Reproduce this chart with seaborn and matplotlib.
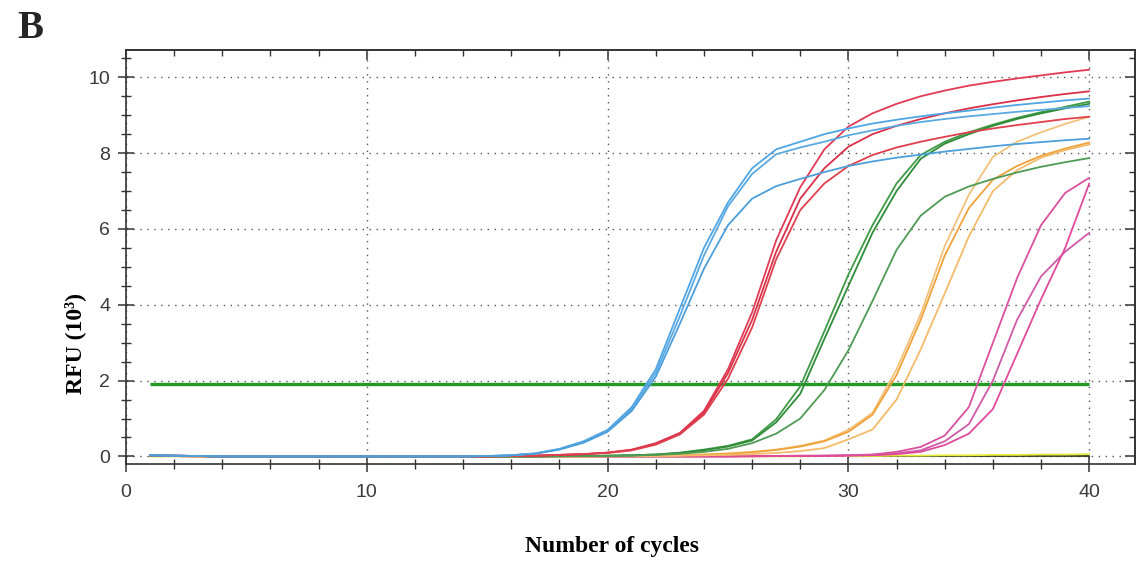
import numpy as np
import pandas as pd
import matplotlib.pyplot as plt
import seaborn as sns
from matplotlib.ticker import MultipleLocator

cycles = list(range(1, 41))

# RFU (x10^3) per cycle
blue_1 = [0.03, 0.02, 0.01, 0.00, 0.00, 0.00, 0.00, 0.00, 0.00, 0.00, 0.00, 0.00, 0.00, 0.00, 0.01,
          0.03, 0.08, 0.20, 0.40, 0.70, 1.30, 2.30, 3.90, 5.50, 6.70,
          7.60, 8.10, 8.30, 8.50, 8.65, 8.78, 8.88, 8.97, 9.05, 9.12, 9.20, 9.27, 9.33, 9.39, 9.44]
blue_2 = [0.03, 0.02, 0.01, 0.00, 0.00, 0.00, 0.00, 0.00, 0.00, 0.00, 0.00, 0.00, 0.00, 0.00, 0.01,
          0.03, 0.08, 0.19, 0.38, 0.68, 1.25, 2.20, 3.70, 5.30, 6.60,
          7.45, 7.97, 8.15, 8.30, 8.47, 8.60, 8.72, 8.82, 8.90, 8.97, 9.03, 9.09, 9.14, 9.19, 9.24]
blue_3 = [0.03, 0.02, 0.01, 0.00, 0.00, 0.00, 0.00, 0.00, 0.00, 0.00, 0.00, 0.00, 0.00, 0.00, 0.01,
          0.03, 0.07, 0.18, 0.36, 0.65, 1.20, 2.10, 3.50, 4.95, 6.10,
          6.80, 7.13, 7.32, 7.50, 7.66, 7.78, 7.88, 7.96, 8.04, 8.11, 8.18, 8.24, 8.29, 8.34, 8.38]

red_1 = [0.03, 0.02, 0.01, 0.00, 0.00, 0.00, 0.00, 0.00, 0.00, 0.00, 0.00, 0.00, 0.00, 0.00, 0.00,
         0.01, 0.02, 0.04, 0.06, 0.10, 0.18, 0.35, 0.62, 1.20, 2.30,
         3.80, 5.70, 7.10, 8.10, 8.70, 9.05, 9.30, 9.50, 9.65, 9.78, 9.88, 9.97, 10.05, 10.13, 10.20]
red_2 = [0.03, 0.02, 0.01, 0.00, 0.00, 0.00, 0.00, 0.00, 0.00, 0.00, 0.00, 0.00, 0.00, 0.00, 0.00,
         0.01, 0.02, 0.04, 0.06, 0.10, 0.17, 0.33, 0.60, 1.15, 2.20,
         3.60, 5.40, 6.80, 7.60, 8.17, 8.50, 8.72, 8.90, 9.05, 9.18, 9.29, 9.39, 9.48, 9.56, 9.63]
red_3 = [0.03, 0.02, 0.01, 0.00, 0.00, 0.00, 0.00, 0.00, 0.00, 0.00, 0.00, 0.00, 0.00, 0.00, 0.00,
         0.01, 0.02, 0.04, 0.06, 0.09, 0.16, 0.31, 0.58, 1.10, 2.05,
         3.40, 5.20, 6.50, 7.20, 7.66, 7.95, 8.15, 8.30, 8.43, 8.55, 8.65, 8.74, 8.82, 8.90, 8.96]

green_1 = [0.02, 0.01, 0.01, 0.00, 0.00, 0.00, 0.00, 0.00, 0.00, 0.00, 0.00, 0.00, 0.00, 0.00, 0.00,
           0.00, 0.00, 0.01, 0.01, 0.02, 0.03, 0.05, 0.10, 0.18, 0.28,
           0.45, 0.98, 1.85, 3.30, 4.80, 6.10, 7.20, 7.95, 8.30, 8.55, 8.75, 8.93, 9.08, 9.22, 9.36]
green_2 = [0.02, 0.01, 0.01, 0.00, 0.00, 0.00, 0.00, 0.00, 0.00, 0.00, 0.00, 0.00, 0.00, 0.00, 0.00,
           0.00, 0.00, 0.01, 0.01, 0.02, 0.03, 0.05, 0.09, 0.16, 0.26,
           0.42, 0.90, 1.65, 3.10, 4.50, 5.90, 7.00, 7.85, 8.25, 8.50, 8.72, 8.90, 9.05, 9.18, 9.30]
green_3 = [0.02, 0.01, 0.01, 0.00, 0.00, 0.00, 0.00, 0.00, 0.00, 0.00, 0.00, 0.00, 0.00, 0.00, 0.00,
           0.00, 0.00, 0.00, 0.01, 0.01, 0.02, 0.04, 0.07, 0.12, 0.20,
           0.35, 0.60, 1.00, 1.75, 2.80, 4.10, 5.45, 6.35, 6.85, 7.12, 7.32, 7.49, 7.64, 7.76, 7.87]

orange_1 = [0.02, 0.01, 0.00, 0.00, 0.00, 0.00, 0.00, 0.00, 0.00, 0.00, 0.00, 0.00, 0.00, 0.00, 0.00,
            0.00, 0.00, 0.00, 0.00, 0.01, 0.01, 0.02, 0.03, 0.05, 0.08,
            0.12, 0.18, 0.28, 0.42, 0.70, 1.15, 2.30, 3.75, 5.55, 6.90, 7.90, 8.30, 8.55, 8.77, 8.96]
orange_2 = [0.02, 0.01, 0.00, 0.00, 0.00, 0.00, 0.00, 0.00, 0.00, 0.00, 0.00, 0.00, 0.00, 0.00, 0.00,
            0.00, 0.00, 0.00, 0.00, 0.01, 0.01, 0.02, 0.03, 0.05, 0.07,
            0.11, 0.17, 0.26, 0.40, 0.65, 1.10, 2.15, 3.60, 5.30, 6.55, 7.30, 7.66, 7.93, 8.12, 8.28]
orange_3 = [0.02, 0.01, 0.00, 0.00, 0.00, 0.00, 0.00, 0.00, 0.00, 0.00, 0.00, 0.00, 0.00, 0.00, 0.00,
            0.00, 0.00, 0.00, 0.00, 0.00, 0.01, 0.01, 0.02, 0.03, 0.04,
            0.06, 0.09, 0.14, 0.22, 0.45, 0.71, 1.50, 2.82, 4.30, 5.80, 7.00, 7.55, 7.88, 8.08, 8.23]

pink_1 = [0.02, 0.01, 0.00, 0.00, 0.00, 0.00, 0.00, 0.00, 0.00, 0.00, 0.00, 0.00, 0.00, 0.00, 0.00,
          0.00, 0.00, 0.00, 0.00, 0.00, 0.00, 0.00, 0.00, 0.00, 0.00,
          0.01, 0.01, 0.02, 0.02, 0.03, 0.05, 0.12, 0.25, 0.55, 1.30, 3.00, 4.70, 6.10, 6.95, 7.35]
pink_2 = [0.02, 0.01, 0.00, 0.00, 0.00, 0.00, 0.00, 0.00, 0.00, 0.00, 0.00, 0.00, 0.00, 0.00, 0.00,
          0.00, 0.00, 0.00, 0.00, 0.00, 0.00, 0.00, 0.00, 0.00, 0.00,
          0.01, 0.01, 0.01, 0.02, 0.03, 0.04, 0.08, 0.16, 0.40, 0.85, 2.00, 3.60, 4.75, 5.40, 5.90]
pink_3 = [0.02, 0.01, 0.00, 0.00, 0.00, 0.00, 0.00, 0.00, 0.00, 0.00, 0.00, 0.00, 0.00, 0.00, 0.00,
          0.00, 0.00, 0.00, 0.00, 0.00, 0.00, 0.00, 0.00, 0.00, 0.00,
          0.00, 0.01, 0.01, 0.01, 0.02, 0.03, 0.06, 0.12, 0.30, 0.60, 1.25, 2.70, 4.15, 5.50, 7.20]

ntc_yellow = [0.00, 0.00, 0.00, 0.00, 0.00, 0.00, 0.00, 0.00, 0.00, 0.00, 0.00, 0.00, 0.00, 0.00, 0.00,
              0.00, 0.00, 0.00, 0.00, 0.00, 0.00, 0.00, 0.00, 0.00, 0.00,
              0.00, 0.00, 0.00, 0.01, 0.01, 0.01, 0.02, 0.02, 0.03, 0.03, 0.04, 0.04, 0.05, 0.05, 0.06]
ntc_dark = [0.00] * 40

threshold = 1.92

wells = {
    'ntc_dark': ntc_dark, 'ntc_yellow': ntc_yellow,
    'pink_1': pink_1, 'pink_2': pink_2, 'pink_3': pink_3,
    'orange_1': orange_1, 'orange_2': orange_2, 'orange_3': orange_3,
    'green_1': green_1, 'green_2': green_2, 'green_3': green_3,
    'red_1': red_1, 'red_2': red_2, 'red_3': red_3,
    'blue_1': blue_1, 'blue_2': blue_2, 'blue_3': blue_3,
}
colours = {
    'ntc_dark': '#33361f', 'ntc_yellow': '#e6ec3c',
    'pink_1': '#d9509f', 'pink_2': '#cf5aa8', 'pink_3': '#e04a9a',
    'orange_1': '#f2c27a', 'orange_2': '#f0a23a', 'orange_3': '#f3bb6a',
    'green_1': '#3f9a45', 'green_2': '#2f8c38', 'green_3': '#4f9a55',
    'red_1': '#e23a55', 'red_2': '#d93048', 'red_3': '#e0404e',
    'blue_1': '#4ea6e6', 'blue_2': '#5aa9e0', 'blue_3': '#4d9fdc',
}

df = pd.concat([pd.DataFrame({'cycle': cycles, 'rfu': v, 'well': k}) for k, v in wells.items()])

sns.set_style('white')
plt.rcParams['font.family'] = ['Liberation Sans', 'DejaVu Sans']

fig = plt.figure(figsize=(11.39, 5.62), dpi=100)
ax = fig.add_axes([126 / 1139, 1 - 464 / 562, (1135 - 126) / 1139, (464 - 50) / 562])

ax.hlines(threshold, cycles[0], cycles[-1], color='#1f9a22', lw=2.4, zorder=2)
sns.lineplot(data=df, x='cycle', y='rfu', hue='well', palette=colours,
             estimator=None, linewidth=1.3, legend=False, ax=ax, zorder=3)

ax.set_xlim(0, 41.9)
ax.set_ylim(-0.2, 10.72)
ax.xaxis.set_major_locator(MultipleLocator(10))
ax.xaxis.set_minor_locator(MultipleLocator(2))
ax.yaxis.set_major_locator(MultipleLocator(2))
ax.yaxis.set_minor_locator(MultipleLocator(0.5))
ax.grid(True, which='major', color='#555555', linestyle=(0, (1, 4)), lw=1.0)
ax.set_axisbelow(True)

for s in ax.spines.values():
    s.set_color('#333333')
    s.set_linewidth(1.2)
ax.tick_params(which='both', bottom=True, left=True)
ax.tick_params(which='major', direction='inout', length=11, width=1.1, color='#333333',
               labelsize=14, labelcolor='#3a3a3a', pad=6)
ax.tick_params(which='minor', direction='inout', length=7, width=1.0, color='#333333')
ax.tick_params(axis='x', which='major', pad=9)

secx = ax.secondary_xaxis('top')
secx.xaxis.set_major_locator(MultipleLocator(10))
secx.xaxis.set_minor_locator(MultipleLocator(2))
secx.tick_params(which='both', top=True)
secx.tick_params(which='major', direction='in', length=7, width=1.1, color='#333333', labeltop=False)
secx.tick_params(which='minor', direction='in', length=4, width=1.0, color='#333333')
secy = ax.secondary_yaxis('right')
secy.yaxis.set_major_locator(MultipleLocator(2))
secy.yaxis.set_minor_locator(MultipleLocator(0.5))
secy.tick_params(which='both', right=True)
secy.tick_params(which='major', direction='in', length=7, width=1.1, color='#333333', labelright=False)
secy.tick_params(which='minor', direction='in', length=4, width=1.0, color='#333333')
for s in list(secx.spines.values()) + list(secy.spines.values()):
    s.set_color('#333333')
    s.set_linewidth(1.2)

serif = ['Liberation Serif', 'DejaVu Serif']
ax.set_xlabel('Number of cycles', family=serif, fontsize=17, fontweight='bold', color='black')
ax.xaxis.set_label_coords(0.482, -0.175)
ax.set_ylabel('RFU (10³)', family=serif, fontsize=17, fontweight='bold', color='black')
ax.yaxis.set_label_coords(-0.04, 0.29)

fig.text(30 / 1139, 1 - 29 / 562, 'B', family=serif, fontsize=28, fontweight='bold',
         ha='center', va='center')

fig.savefig('out.png', dpi=100)
